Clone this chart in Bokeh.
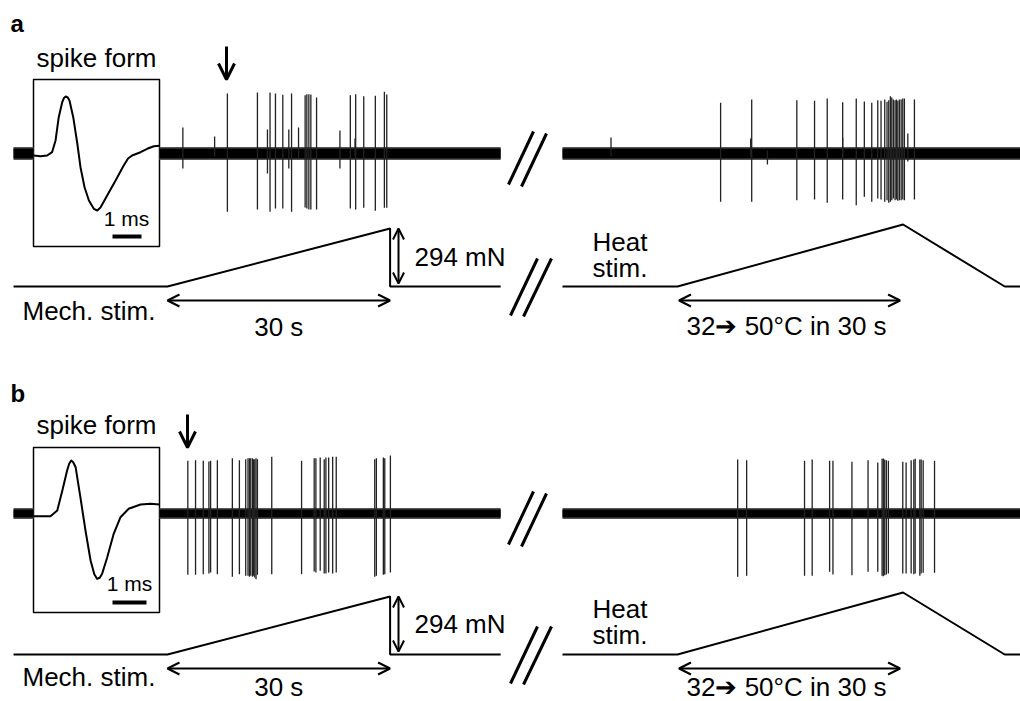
from bokeh.plotting import figure
from bokeh.models import Range1d, Arrow, OpenHead
from bokeh.core.properties import value
from bokeh.embed import file_html
from bokeh.resources import INLINE

# ---------------- data ----------------
# Panel a, mechanical stimulation: spike times (s after ramp onset) and amplitudes (a.u.)
MECH_A_T = [8.07, 12.12, 13.82, 14.55, 15.54, 16.72, 18.55, 18.78, 19.05, 19.32, 20.09,
            24.64, 25.36, 26.45, 28.01, 29.23, 29.55]
MECH_A_UP = [60, 61, 61, 60, 58.7, 60, 58.3, 59.3, 59.3, 59, 56, 58.3, 59.3, 57.3, 57.7, 61.7, 59]
MECH_A_DN = [58.3, 56, 58.3, 55, 55, 58.3, 54, 55, 56, 56, 56, 55, 56, 54.3, 57.3, 54.3, 54.3]
MECH_A_SMALL_T = [2.07, 6.35, 13.47, 16.35, 17.66, 23.24, 25.27]
MECH_A_SMALL_UP = [26, 17, 24, 24, 26, 23, 15]
MECH_A_SMALL_DN = [15, 3, 20, 15, 5, 15, 3]

# Panel a, heat stimulation
HEAT_A_T = [5.81, 10.0, 16.08, 18.47, 20.18, 22.26, 24.09, 25.18, 26.18, 26.99, 27.43, 27.93,
            28.24, 28.47, 28.69, 28.88, 29.09, 29.32, 29.5, 29.69, 29.9, 30.14, 30.36, 30.58, 31.93]
HEAT_A_UP = [50.7, 54, 53.3, 52.7, 55, 51.3, 55, 52, 50.7, 53.3, 52.7, 54, 51.7, 53.3, 57.3, 56,
             54, 53.3, 54, 52.7, 54, 54, 55, 55, 54]
HEAT_A_DN = [48.3, 48.3, 46.7, 46, 49.3, 46, 51.7, 43.3, 48.3, 45, 46, 48.3, 46.7, 49.3, 48.3,
             46.7, 45, 46.7, 46, 47.3, 46.7, 46.7, 46, 46.7, 46]
HEAT_A_SMALL_T = [-8.96, 9.86, 12.12, 22.26, 31.04]
HEAT_A_SMALL_UP = [16, 15, 3, 16, 20]
HEAT_A_SMALL_DN = [3, 3, 11, 3, 8]

# Panel b, mechanical stimulation
MECH_B_T = [2.74, 3.78, 4.82, 5.58, 5.81, 6.72, 8.74, 9.69, 10.54, 10.85, 11.04, 11.22, 11.45,
            11.58, 11.76, 11.93, 12.12, 14.05, 18.07, 19.77, 20.0, 20.58, 21.12, 21.35, 21.72,
            22.26, 22.74, 27.93, 28.15, 29.09, 29.28, 30.04]
MECH_B_UP = [52.7, 53.3, 52.7, 52, 52.7, 53.3, 55.3, 53.3, 54.3, 55.3, 55.3, 55.3, 55.3, 54.3,
             54.3, 55.3, 54.3, 56.7, 52.7, 55.3, 55.3, 56, 54.3, 56, 56, 56.7, 56.7, 54.3, 55.3,
             56, 55.3, 58]
MECH_B_DN = [61.3, 61.3, 60.7, 60, 59, 60.7, 63.3, 60.7, 62.3, 62.3, 63.3, 62.3, 63.3, 62.3, 64,
             65.7, 61.3, 60.7, 60.7, 58, 59, 57.3, 60, 60, 59, 60, 59, 63.3, 62.3, 61.3, 60.7, 59]

# Panel b, heat stimulation
HEAT_B_T = [8.11, 9.32, 17.12, 18.15, 20.5, 20.95, 23.51, 25.68, 26.99, 27.57, 27.74, 27.93,
            28.15, 28.42, 30.36, 30.81, 31.49, 31.85, 32.03, 32.66, 32.84, 33.11, 34.64]
HEAT_B_UP = [54, 53.3, 52.7, 54, 52.7, 52.7, 51.7, 53.3, 51, 54.7, 55, 54, 53.3, 52.7, 51.7, 51,
             53.3, 54, 54.7, 54, 54, 53.3, 52.7]
HEAT_B_DN = [63.3, 62.3, 62.3, 62.3, 58.3, 61, 61.7, 58.3, 58.3, 62.3, 62.7, 61.7, 61, 60, 60,
             60, 60, 60.7, 60, 62.3, 60, 59.3, 59.3]

# Averaged spike forms (time in ms, amplitude in a.u.)
FORM_A_MS = [0, 0.23, 0.46, 0.63, 0.75, 0.86, 0.98, 1.04, 1.10, 1.17, 1.23, 1.36, 1.50, 1.61,
             1.75, 1.90, 2.07, 2.19, 2.30, 2.53, 2.82, 3.10, 3.25, 3.39, 3.68, 3.91, 4.14, 4.33]
FORM_A_V = [0, -0.7, 0, 3.3, 15, 38.3, 53.3, 57.5, 59, 58, 55, 38.3, 12, -11.7, -31.7, -45,
            -53.3, -55, -52, -40, -25, -10, -3, 0, 3.3, 6.7, 9.3, 9.7]
FORM_B_MS = [0, 0.49, 0.69, 0.84, 0.98, 1.04, 1.10, 1.16, 1.23, 1.37, 1.52, 1.67, 1.78, 1.86,
             1.94, 2.01, 2.16, 2.35, 2.55, 2.79, 3.14, 3.43, 3.70]
FORM_B_V = [0, 0, 5.7, 25.7, 45.7, 52.5, 55.7, 54, 49, 19, -14.3, -44.3, -58, -62.6, -61.5,
            -57.6, -41, -17.6, -1, 7.4, 11.7, 12.4, 11.7]

# Stimulus protocols
MECH_STIM_T = [-20.75, 0, 30, 30, 44.9]      # s
MECH_STIM_F = [0, 0, 294, 0, 0]              # mN
HEAT_STIM_T = [-15.5, 0, 30.4, 44.1, 46.3]   # s
HEAT_STIM_C = [32, 32, 50, 32, 32]           # deg C

# ---------------- layout helpers ----------------
S = 7.42          # px per second
PX_T0 = 167       # px of mechanical ramp onset
TXT = -9          # baseline correction for text glyphs


def X(px):
    return (px - PX_T0) / S


HEAT_T0 = X(677)
FONT = value("Liberation Sans")
FS = "26px"

p = figure(width=1020, height=701, x_range=Range1d(X(0), X(1020)), y_range=Range1d(701, 0),
           output_backend="svg", toolbar_location=None, min_border=0,
           x_axis_location=None, y_axis_location=None)
p.grid.visible = False
p.outline_line_color = None
p.background_fill_color = "white"


def txt(x, y, s, size=FS, align="left", style="normal"):
    p.text(x=[x], y=[y + TXT], text=[s], text_font=FONT, text_font_size=size,
           text_font_style=style, text_baseline="alphabetic", text_align=align,
           text_color="black")


panels = [
    dict(label="a", dy=0, base=153, band=5, form_ms=FORM_A_MS, form_v=FORM_A_V, form_base=155,
         px_per_ms=29, bar=(112, 141), bar_y=236, ms_x=126, box_bot=246,
         arrow_x=226, mech=(MECH_A_T, MECH_A_UP, MECH_A_DN),
         mech_small=(MECH_A_SMALL_T, MECH_A_SMALL_UP, MECH_A_SMALL_DN),
         heat=(HEAT_A_T, HEAT_A_UP, HEAT_A_DN),
         heat_small=(HEAT_A_SMALL_T, HEAT_A_SMALL_UP, HEAT_A_SMALL_DN),
         sdy=0, base_dy=0,
         tb=dict(lab=31.7, sf=66.7, ms=227, mn=265, heat=250, stim=276, mech=319, s30=335,
                 hl=334)),
    dict(label="b", dy=368, base=513, band=4, form_ms=FORM_B_MS, form_v=FORM_B_V, form_base=515.7,
         px_per_ms=34, bar=(112, 146), bar_y=602, ms_x=129, box_bot=612,
         arrow_x=187, mech=(MECH_B_T, MECH_B_UP, MECH_B_DN), mech_small=None,
         heat=(HEAT_B_T, HEAT_B_UP, HEAT_B_DN), heat_small=None,
         sdy=368, base_dy=360,
         tb=dict(lab=401.7, sf=433.3, ms=592, mn=632, heat=617, stim=643, mech=685, s30=695,
                 hl=695)),
]

for P in panels:
    dy = P["dy"]
    base = P["base"]
    tb = P["tb"]
    txt(X(10), tb["lab"], P["label"], size="24px", style="bold")
    txt(X(96), tb["sf"], "spike form", align="center")
    # inset box
    p.quad(left=[X(33)], right=[X(159)], top=[79 + dy], bottom=[P["box_bot"]], fill_color=None,
           line_color="black", line_width=1.5)
    # spike form
    fx = [X(33.3) + ms * P["px_per_ms"] / S for ms in P["form_ms"]]
    fy = [P["form_base"] - v for v in P["form_v"]]
    p.line(fx, fy, line_color="black", line_width=2, line_join="round")
    # scale bar
    p.segment(x0=[X(P["bar"][0])], x1=[X(P["bar"][1])], y0=[P["bar_y"]], y1=[P["bar_y"]],
              line_color="black", line_width=4)
    txt(X(P["ms_x"]), tb["ms"], "1 ms", size="21px", align="center")
    # noise bands (stub, mech trace, heat trace)
    bw = P["band"]
    lefts = [X(13), X(159), HEAT_T0 + HEAT_STIM_T[0]]
    rights = [X(33), MECH_STIM_T[-1], HEAT_T0 + HEAT_STIM_T[-1]]
    p.quad(left=lefts, right=rights, top=[base - bw - 1.5] * 3, bottom=[base + bw + 1.5] * 3,
           fill_color="#555", line_color=None)
    p.quad(left=lefts, right=rights, top=[base - bw] * 3, bottom=[base + bw] * 3,
           fill_color="black", line_color=None)
    # spikes
    for key, off in (("mech", 0.0), ("heat", HEAT_T0), ("mech_small", 0.0), ("heat_small", HEAT_T0)):
        if P[key] is None:
            continue
        ts, ups, dns = P[key]
        p.segment(x0=[t + off for t in ts], x1=[t + off for t in ts],
                  y0=[base - u for u in ups], y1=[base + d for d in dns],
                  line_color="#222", line_width=1.3)
    # arrow marking the first spike
    ax = P["arrow_x"]
    p.add_layout(Arrow(end=OpenHead(size=16, line_width=3, line_color="black"),
                       x_start=X(ax), y_start=46 + dy, x_end=X(ax), y_end=79 + dy,
                       line_width=3, line_color="black"))
    # break marks
    bd = P["base_dy"]
    sd = P["sdy"]
    p.segment(x0=[X(508), X(521), X(510), X(523)], x1=[X(533), X(546), X(537), X(551)],
              y0=[184 + bd, 186 + bd, 315 + sd, 316 + sd],
              y1=[131 + bd, 133 + bd, 258 + sd, 258 + sd],
              line_color="black", line_width=3)
    # stimulus traces
    flat = 286 + sd
    p.line(MECH_STIM_T, [flat - f * 58 / 294 for f in MECH_STIM_F], line_color="black",
           line_width=2)
    p.line([HEAT_T0 + t for t in HEAT_STIM_T], [flat - (c - 32) * 62 / 18 for c in HEAT_STIM_C],
           line_color="black", line_width=2)
    # force arrow and label
    p.add_layout(Arrow(start=OpenHead(size=11, line_width=2), end=OpenHead(size=11, line_width=2),
                       x_start=X(398), y_start=228 + sd, x_end=X(398), y_end=283 + sd,
                       line_width=2))
    txt(X(414), tb["mn"], "294 mN")
    # duration arrows
    p.add_layout(Arrow(start=OpenHead(size=12, line_width=2), end=OpenHead(size=12, line_width=2),
                       x_start=0, y_start=300 + sd, x_end=30, y_end=300 + sd, line_width=2))
    p.add_layout(Arrow(start=OpenHead(size=12, line_width=2), end=OpenHead(size=12, line_width=2),
                       x_start=HEAT_T0 + 0.2, y_start=300 + sd, x_end=HEAT_T0 + 30,
                       y_end=300 + sd, line_width=2))
    txt(X(22), tb["mech"], "Mech. stim.")
    txt(15, tb["s30"], "30 s", align="center")
    txt(X(592), tb["heat"], "Heat")
    txt(X(592), tb["stim"], "stim.")
    txt(X(686), tb["hl"], "32\u2794 50\u00b0C in 30 s")

open("out.html", "w").write(file_html(p, INLINE))
